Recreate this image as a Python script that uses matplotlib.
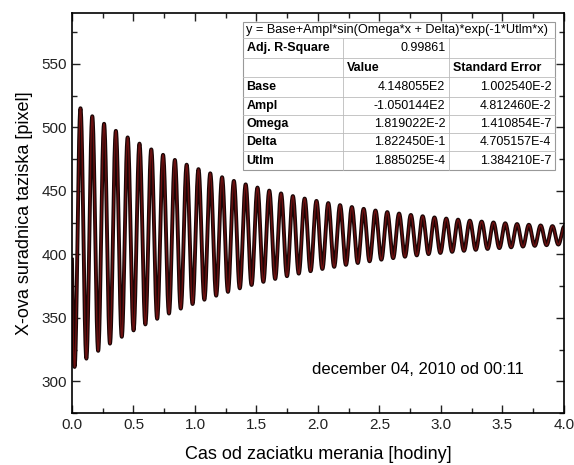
import numpy as np
import matplotlib.pyplot as plt
from matplotlib.ticker import MultipleLocator

plt.rcParams['font.family'] = ['Liberation Sans', 'DejaVu Sans']

# fit parameters (x in seconds)
base = 4.148055e2
ampl = -1.050144e2
omega = 1.819022e-2
delta = 1.822450e-1
utlm = 1.885025e-4

adj_r2 = "0.99861"
param_names = ["Base", "Ampl", "Omega", "Delta", "Utlm"]
param_values = ["4.148055E2", "-1.050144E2", "1.819022E-2", "1.822450E-1", "1.885025E-4"]
param_errors = ["1.002540E-2", "4.812460E-2", "1.410854E-7", "4.705157E-4", "1.384210E-7"]

t_sec = np.arange(0, 4.0 * 3600 + 1, 2.0)
t_hours = t_sec / 3600
y_fit = base + ampl * np.sin(omega * t_sec + delta) * np.exp(-1 * utlm * t_sec)

fig = plt.figure(figsize=(5.74, 4.65), dpi=100)
ax = fig.add_axes([0.1254, 0.1118, 0.857, 0.8602])

ax.plot(t_hours, y_fit, color='#1a0606', lw=2.8)
ax.plot(t_hours, y_fit, color='#6a1010', lw=1.0)

ax.set_xlim(0, 4.0)
ax.set_ylim(275, 590)
ax.xaxis.set_major_locator(MultipleLocator(0.5))
ax.xaxis.set_minor_locator(MultipleLocator(0.25))
ax.yaxis.set_minor_locator(MultipleLocator(25))
ax.set_yticks([300, 350, 400, 450, 500, 550])
ax.tick_params(which='both', direction='in', top=True, right=True, labelsize=11, colors='#222222')
ax.tick_params(which='major', length=6, width=1)
ax.tick_params(which='minor', length=3.5, width=1)
for s in ax.spines.values():
    s.set_linewidth(1.2)

ax.set_xlabel('Cas od zaciatku merania [hodiny]', fontsize=13, labelpad=10)
ax.set_ylabel('X-ova suradnica taziska [pixel]', fontsize=13, labelpad=6)

ax.text(0.918, 0.108, 'december 04, 2010 od 00:11', transform=ax.transAxes,
        ha='right', va='center', fontsize=12)

# fit result table (axes coordinates)
x0, x1, x2, x3 = 0.347, 0.550, 0.767, 0.982
row_h = [16, 20, 19, 20, 18, 18, 18, 19]
top_px = 22
ax_top_px, ax_h_px = 13, 400

def ypx(p):
    return 1 - (p - ax_top_px) / ax_h_px

edges = [top_px]
for h in row_h:
    edges.append(edges[-1] + h)
ys = [ypx(e) for e in edges]

ax.add_patch(plt.Rectangle((x0, ys[-1]), x3 - x0, ys[0] - ys[-1], transform=ax.transAxes,
                           facecolor='white', edgecolor='#999999', lw=0.8, zorder=5))
for y in ys[1:-1]:
    ax.plot([x0, x3], [y, y], transform=ax.transAxes, color='#bbbbbb', lw=0.6, zorder=6)
for x in (x1, x2):
    ax.plot([x, x], [ys[1], ys[-1]], transform=ax.transAxes, color='#bbbbbb', lw=0.6, zorder=6)

def mid(i):
    return (ys[i] + ys[i + 1]) / 2

fs = 9
ax.text(x0 + 0.006, mid(0), 'y = Base+Ampl*sin(Omega*x + Delta)*exp(-1*Utlm*x)', transform=ax.transAxes,
        fontsize=9.2, va='center', ha='left', zorder=7)
ax.text(x0 + 0.008, mid(1), 'Adj. R-Square', transform=ax.transAxes, fontsize=fs,
        fontweight='bold', va='center', zorder=7)
ax.text(x2 - 0.008, mid(1), adj_r2, transform=ax.transAxes, fontsize=fs, va='center', ha='right', zorder=7)
ax.text(x1 + 0.008, mid(2), 'Value', transform=ax.transAxes, fontsize=fs,
        fontweight='bold', va='center', zorder=7)
ax.text(x2 + 0.008, mid(2), 'Standard Error', transform=ax.transAxes, fontsize=fs,
        fontweight='bold', va='center', zorder=7)
for i, (n, v, e) in enumerate(zip(param_names, param_values, param_errors)):
    r = i + 3
    ax.text(x0 + 0.008, mid(r), n, transform=ax.transAxes, fontsize=fs, fontweight='bold', va='center', zorder=7)
    ax.text(x2 - 0.008, mid(r), v, transform=ax.transAxes, fontsize=fs, va='center', ha='right', zorder=7)
    ax.text(x3 - 0.008, mid(r), e, transform=ax.transAxes, fontsize=fs, va='center', ha='right', zorder=7)

plt.savefig('out.png', dpi=100)
